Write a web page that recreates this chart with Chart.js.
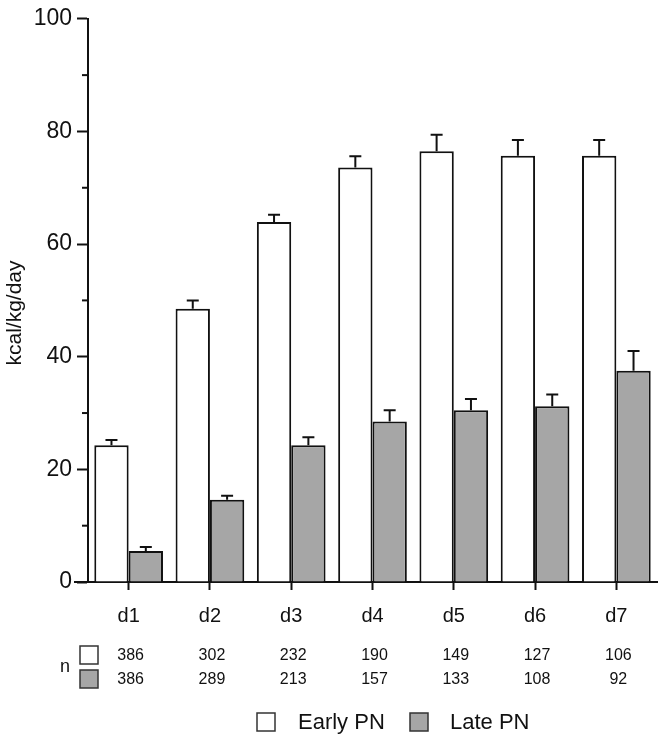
<!DOCTYPE html>
<html>
<head>
<meta charset="utf-8">
<script src="https://cdn.jsdelivr.net/npm/chart.js@4/dist/chart.umd.min.js"></script>
<style>
  html, body { margin: 0; padding: 0; background: #fff; }
  #wrap { width: 660px; height: 742px; position: relative; }
</style>
</head>
<body>
<div id="wrap"><canvas id="grafico"></canvas></div>
<script>
// datos
const dias = ["d1", "d2", "d3", "d4", "d5", "d6", "d7"];
const earlyPN = [24.3, 48.5, 63.9, 73.6, 76.5, 75.7, 75.7];
const earlyErr = [0.9, 1.5, 1.3, 2.0, 2.9, 2.8, 2.8];
const latePN = [5.5, 14.6, 24.3, 28.5, 30.5, 31.2, 37.5];
const lateErr = [0.7, 0.7, 1.4, 2.0, 2.0, 2.1, 3.5];
const nEarly = [386, 302, 232, 190, 149, 127, 106];
const nLate = [386, 289, 213, 157, 133, 108, 92];
const yTicks = [0, 20, 40, 60, 80, 100];

const FONT = "'Liberation Sans', Arial, sans-serif";
const INK = "#111111";
const GRIS = "#a6a6a6";

// barras de error (solo hacia arriba)
const errorBars = {
  id: "errorBars",
  afterDatasetsDraw(chart) {
    const ctx = chart.ctx;
    const y = chart.scales.y;
    ctx.save();
    ctx.strokeStyle = INK;
    ctx.lineWidth = 2;
    chart.data.datasets.forEach((ds, i) => {
      const meta = chart.getDatasetMeta(i);
      meta.data.forEach((bar, j) => {
        const top = y.getPixelForValue(ds.data[j] + ds.err[j]);
        ctx.beginPath();
        ctx.moveTo(bar.x, bar.y);
        ctx.lineTo(bar.x, top);
        ctx.moveTo(bar.x - 6, top);
        ctx.lineTo(bar.x + 6, top);
        ctx.stroke();
      });
    });
    ctx.restore();
  }
};

// ticks menores, titulo del eje, tabla de n y leyenda
const extras = {
  id: "extras",
  afterDraw(chart) {
    const ctx = chart.ctx;
    const x = chart.scales.x;
    const y = chart.scales.y;
    const left = chart.chartArea.left;
    const bottom = chart.chartArea.bottom;
    ctx.save();
    ctx.strokeStyle = INK;
    ctx.lineWidth = 2;
    for (let k = 0; k < y.ticks.length - 1; k++) {
      const mid = (y.ticks[k].value + y.ticks[k + 1].value) / 2;
      const py = y.getPixelForValue(mid);
      ctx.beginPath();
      ctx.moveTo(left - 6, py);
      ctx.lineTo(left, py);
      ctx.stroke();
    }
    // el eje x asoma un poco a la izquierda
    ctx.beginPath();
    ctx.moveTo(left - 14, bottom);
    ctx.lineTo(left, bottom);
    ctx.stroke();

    ctx.fillStyle = INK;
    ctx.save();
    ctx.translate(15, 313);
    ctx.rotate(-Math.PI / 2);
    ctx.font = "21px " + FONT;
    ctx.textAlign = "center";
    ctx.textBaseline = "middle";
    ctx.fillText("kcal/kg/day", 0, 0);
    ctx.restore();

    // tabla n
    ctx.font = "16px " + FONT;
    ctx.textAlign = "center";
    ctx.textBaseline = "middle";
    dias.forEach((d, j) => {
      const px = x.getPixelForValue(j);
      ctx.fillText(String(nEarly[j]), px + 2, 656);
      ctx.fillText(String(nLate[j]), px + 2, 680);
    });
    ctx.font = "18px " + FONT;
    ctx.fillText("n", 65, 667);

    const caja = (bx, by, fill) => {
      ctx.fillStyle = fill;
      ctx.fillRect(bx, by, 18, 18);
      ctx.lineWidth = 1.5;
      ctx.strokeStyle = "#333";
      ctx.strokeRect(bx, by, 18, 18);
    };
    caja(80, 646, "#fff");
    caja(80, 670, GRIS);

    // leyenda
    caja(257, 713, "#fff");
    caja(410, 713, GRIS);
    ctx.fillStyle = INK;
    ctx.font = "22px " + FONT;
    ctx.textAlign = "left";
    ctx.fillText("Early PN", 298, 723);
    ctx.fillText("Late PN", 450, 723);
    ctx.restore();
  }
};

const ctx = document.getElementById("grafico").getContext("2d");
new Chart(ctx, {
  type: "bar",
  data: {
    labels: dias,
    datasets: [
      {
        label: "Early PN",
        data: earlyPN,
        err: earlyErr,
        backgroundColor: "#ffffff",
        borderColor: INK,
        borderWidth: 2,
        categoryPercentage: 0.845,
        barPercentage: 1.0
      },
      {
        label: "Late PN",
        data: latePN,
        err: lateErr,
        backgroundColor: GRIS,
        borderColor: INK,
        borderWidth: 2,
        categoryPercentage: 0.845,
        barPercentage: 1.0
      }
    ]
  },
  options: {
    responsive: true,
    maintainAspectRatio: false,
    animation: false,
    layout: { padding: { top: 14, right: 3, left: 0, bottom: 0 } },
    plugins: {
      legend: { display: false },
      tooltip: { enabled: false }
    },
    scales: {
      x: {
        grid: {
          offset: false,
          drawOnChartArea: false,
          drawTicks: true,
          tickLength: 8,
          tickWidth: 2,
          tickColor: INK
        },
        border: { display: true, color: INK, width: 2 },
        ticks: {
          color: INK,
          padding: 14,
          font: { family: FONT, size: 20 }
        },
        afterFit(scale) { scale.height = 160; }
      },
      y: {
        min: 0,
        max: 100,
        afterBuildTicks(scale) {
          scale.ticks = yTicks.map(v => ({ value: v }));
        },
        grid: {
          drawOnChartArea: false,
          drawTicks: true,
          tickLength: 11,
          tickWidth: 2,
          tickColor: INK
        },
        border: { display: true, color: INK, width: 2 },
        ticks: {
          color: INK,
          padding: 5,
          font: { family: FONT, size: 23 }
        },
        afterFit(scale) { scale.width = 88; }
      }
    }
  },
  plugins: [errorBars, extras]
});
</script>
</body>
</html>
